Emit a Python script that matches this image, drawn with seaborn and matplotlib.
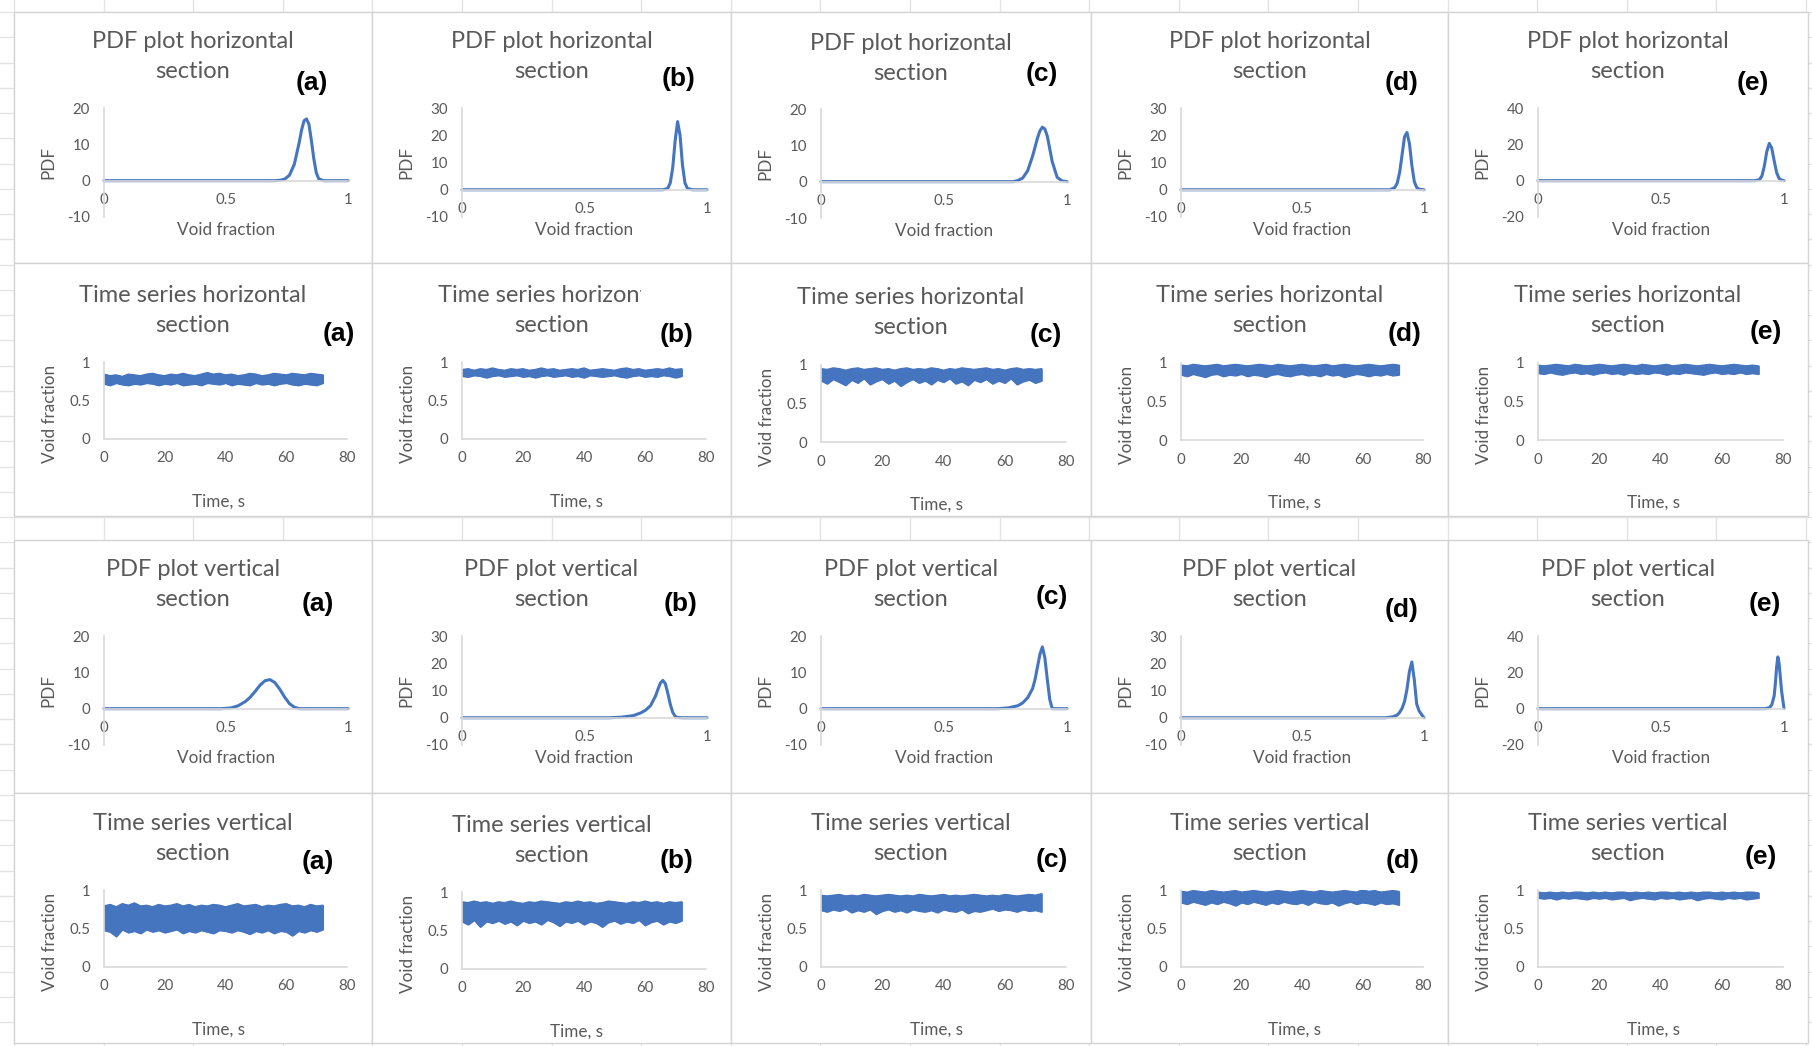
import matplotlib
matplotlib.use("Agg")
import matplotlib.pyplot as plt
from matplotlib.patches import Rectangle
from matplotlib.ticker import FuncFormatter
import seaborn as sns

# ---------------------------------------------------------------- data
letters = ["(a)", "(b)", "(c)", "(d)", "(e)"]
row_titles = [
    ("PDF plot horizontal", "section"),
    ("Time series horizontal", "section"),
    ("PDF plot vertical", "section"),
    ("Time series vertical", "section"),
]
pdf_ylabel = "PDF"
pdf_xlabel = "Void fraction"
ts_ylabel = "Void fraction"
ts_xlabel = "Time, s"

pdf_x_ticks = [0, 0.5, 1]
pdf_x_ticklabels = ["0", "0.5", "1"]
ts_x_ticks = [0, 20, 40, 60, 80]
ts_x_ticklabels = ["0", "20", "40", "60", "80"]
ts_y_ticks = [0, 0.5, 1]
ts_y_ticklabels = ["0", "0.5", "1"]

# (min, max, major step) of the PDF value axes, columns (a)-(e)
pdf_h_yaxis = [(-10, 20, 10), (-10, 30, 10), (-10, 20, 10), (-10, 30, 10), (-20, 40, 20)]
pdf_v_yaxis = [(-10, 20, 10), (-10, 30, 10), (-10, 20, 10), (-10, 30, 10), (-20, 40, 20)]

# PDF curves, horizontal section
pdf_h_a_x = [0, 0.70, 0.72, 0.74, 0.76, 0.78, 0.80, 0.81, 0.82, 0.83, 0.84, 0.85, 0.86, 0.87, 0.88, 0.90, 1.0]
pdf_h_a_y = [0, 0, 0.1, 0.4, 1.5, 4.5, 10.5, 14, 16.5, 17, 15.5, 11, 6, 2.2, 0.5, 0, 0]
pdf_h_b_x = [0, 0.82, 0.84, 0.85, 0.86, 0.87, 0.88, 0.89, 0.90, 0.91, 0.92, 0.94, 1.0]
pdf_h_b_y = [0, 0, 0.5, 2.5, 8, 18, 25, 20, 9, 2.5, 0.5, 0, 0]
pdf_h_c_x = [0, 0.78, 0.80, 0.82, 0.84, 0.86, 0.88, 0.89, 0.90, 0.91, 0.92, 0.94, 0.96, 0.98, 1.0]
pdf_h_c_y = [0, 0, 0.3, 1, 3, 7, 12, 14, 15, 14.5, 12.5, 5.5, 1.2, 0.2, 0]
pdf_h_d_x = [0, 0.86, 0.88, 0.89, 0.90, 0.91, 0.92, 0.93, 0.94, 0.95, 0.96, 0.97, 0.98, 1.0]
pdf_h_d_y = [0, 0, 0.8, 2.5, 6.5, 13, 19.5, 21, 17, 9, 3, 0.8, 0.2, 0]
pdf_h_e_x = [0, 0.88, 0.90, 0.91, 0.92, 0.93, 0.94, 0.95, 0.96, 0.97, 0.98, 0.99, 1.0]
pdf_h_e_y = [0, 0, 0.5, 2.5, 8, 16, 20.5, 18, 11, 4.5, 1.2, 0.3, 0]

# PDF curves, vertical section
pdf_v_a_x = [0, 0.48, 0.52, 0.55, 0.58, 0.60, 0.62, 0.64, 0.66, 0.68, 0.70, 0.72, 0.74, 0.76, 0.78, 0.80, 1.0]
pdf_v_a_y = [0, 0, 0.2, 0.8, 2, 3.2, 4.8, 6.5, 7.7, 8, 7.2, 5.4, 3.2, 1.4, 0.4, 0, 0]
pdf_v_b_x = [0, 0.60, 0.65, 0.70, 0.73, 0.75, 0.77, 0.79, 0.80, 0.81, 0.82, 0.83, 0.84, 0.85, 0.86, 0.87, 0.88, 0.90, 1.0]
pdf_v_b_y = [0, 0, 0.2, 0.8, 1.8, 2.8, 4.5, 8, 10.5, 12.8, 13.7, 12.5, 9, 5, 2, 0.5, 0.1, 0, 0]
pdf_v_c_x = [0, 0.72, 0.76, 0.80, 0.82, 0.84, 0.86, 0.87, 0.88, 0.89, 0.90, 0.91, 0.92, 0.93, 0.94, 1.0]
pdf_v_c_y = [0, 0, 0.2, 0.8, 1.6, 3, 5.5, 8, 11.5, 15, 17, 14, 8, 2.5, 0, 0]
pdf_v_d_x = [0, 0.84, 0.87, 0.89, 0.90, 0.91, 0.92, 0.93, 0.94, 0.95, 0.96, 0.97, 0.98, 0.99, 1.0]
pdf_v_d_y = [0, 0, 0.3, 1, 2, 3.5, 6, 10.5, 17, 20.5, 14, 5, 2.5, 1.2, 0]
pdf_v_e_x = [0, 0.92, 0.94, 0.95, 0.96, 0.965, 0.97, 0.975, 0.98, 0.99, 1.0]
pdf_v_e_y = [0, 0, 0.5, 2, 7, 14, 23, 28.5, 25, 10, 0]

# time stamps of the void-fraction envelopes, s
time_s = [0, 2, 4, 6, 8, 10, 12, 14, 16, 18, 20, 22, 24, 26, 28, 30, 32, 34, 36,
          38, 40, 42, 44, 46, 48, 50, 52, 54, 56, 58, 60, 62, 64, 66, 68, 70, 72]

# upper / lower envelopes of the void-fraction signal, horizontal section
ts_h_a_hi = [0.84, 0.82, 0.83, 0.81, 0.84, 0.83, 0.82, 0.84, 0.85, 0.83, 0.82, 0.84, 0.83, 0.85, 0.83, 0.82, 0.84, 0.86, 0.84,
             0.85, 0.83, 0.84, 0.82, 0.83, 0.85, 0.84, 0.82, 0.83, 0.85, 0.84, 0.83, 0.85, 0.84, 0.83, 0.85, 0.84, 0.83]
ts_h_a_lo = [0.72, 0.70, 0.73, 0.71, 0.70, 0.72, 0.71, 0.73, 0.72, 0.70, 0.72, 0.71, 0.73, 0.70, 0.71, 0.72, 0.70, 0.73, 0.72,
             0.71, 0.73, 0.70, 0.72, 0.71, 0.70, 0.73, 0.71, 0.72, 0.70, 0.72, 0.73, 0.71, 0.70, 0.72, 0.71, 0.70, 0.73]
ts_h_b_hi = [0.90, 0.91, 0.89, 0.91, 0.90, 0.92, 0.90, 0.89, 0.91, 0.90, 0.91, 0.89, 0.90, 0.92, 0.90, 0.91, 0.89, 0.90, 0.91,
             0.90, 0.92, 0.89, 0.90, 0.91, 0.90, 0.89, 0.91, 0.92, 0.90, 0.91, 0.89, 0.90, 0.91, 0.90, 0.92, 0.90, 0.91]
ts_h_b_lo = [0.82, 0.81, 0.83, 0.82, 0.80, 0.82, 0.83, 0.81, 0.82, 0.83, 0.81, 0.82, 0.80, 0.82, 0.83, 0.81, 0.82, 0.83, 0.81,
             0.82, 0.80, 0.83, 0.82, 0.81, 0.82, 0.83, 0.81, 0.80, 0.82, 0.83, 0.81, 0.82, 0.81, 0.83, 0.82, 0.80, 0.82]
ts_h_c_hi = [0.95, 0.94, 0.96, 0.95, 0.93, 0.95, 0.96, 0.94, 0.95, 0.96, 0.94, 0.95, 0.93, 0.95, 0.96, 0.94, 0.95, 0.94, 0.96,
             0.95, 0.93, 0.95, 0.94, 0.96, 0.95, 0.94, 0.95, 0.96, 0.94, 0.95, 0.93, 0.95, 0.96, 0.94, 0.95, 0.94, 0.95]
ts_h_c_lo = [0.80, 0.76, 0.82, 0.78, 0.74, 0.81, 0.77, 0.83, 0.75, 0.79, 0.82, 0.76, 0.80, 0.73, 0.78, 0.82, 0.77, 0.80, 0.75,
             0.81, 0.78, 0.83, 0.76, 0.79, 0.74, 0.81, 0.78, 0.82, 0.76, 0.80, 0.77, 0.83, 0.75, 0.79, 0.81, 0.77, 0.80]
ts_h_d_hi = [0.97, 0.96, 0.98, 0.97, 0.96, 0.97, 0.98, 0.96, 0.97, 0.98, 0.97, 0.96, 0.97, 0.98, 0.97, 0.96, 0.98, 0.97, 0.96,
             0.97, 0.98, 0.97, 0.96, 0.97, 0.98, 0.96, 0.97, 0.98, 0.97, 0.96, 0.97, 0.98, 0.97, 0.96, 0.97, 0.98, 0.97]
ts_h_d_lo = [0.85, 0.83, 0.86, 0.84, 0.82, 0.85, 0.86, 0.83, 0.85, 0.84, 0.86, 0.83, 0.85, 0.84, 0.82, 0.85, 0.86, 0.84, 0.83,
             0.85, 0.86, 0.84, 0.85, 0.83, 0.86, 0.84, 0.85, 0.82, 0.84, 0.86, 0.85, 0.83, 0.85, 0.84, 0.86, 0.84, 0.85]
ts_h_e_hi = [0.97, 0.96, 0.97, 0.98, 0.97, 0.96, 0.98, 0.97, 0.96, 0.97, 0.98, 0.97, 0.96, 0.97, 0.98, 0.97, 0.96, 0.98, 0.97,
             0.96, 0.97, 0.98, 0.96, 0.97, 0.98, 0.97, 0.96, 0.97, 0.98, 0.97, 0.96, 0.97, 0.98, 0.97, 0.96, 0.97, 0.96]
ts_h_e_lo = [0.87, 0.86, 0.88, 0.86, 0.85, 0.87, 0.88, 0.86, 0.87, 0.85, 0.87, 0.88, 0.86, 0.87, 0.85, 0.88, 0.86, 0.87, 0.86,
             0.88, 0.87, 0.85, 0.87, 0.86, 0.88, 0.87, 0.86, 0.85, 0.87, 0.88, 0.86, 0.87, 0.86, 0.88, 0.86, 0.87, 0.86]

# upper / lower envelopes of the void-fraction signal, vertical section
ts_v_a_hi = [0.79, 0.81, 0.78, 0.82, 0.80, 0.83, 0.79, 0.80, 0.78, 0.81, 0.79, 0.80, 0.82, 0.79, 0.81, 0.78, 0.80, 0.79, 0.81,
             0.80, 0.78, 0.80, 0.82, 0.79, 0.80, 0.81, 0.78, 0.80, 0.79, 0.81, 0.82, 0.79, 0.80, 0.78, 0.81, 0.79, 0.80]
ts_v_a_lo = [0.48, 0.46, 0.40, 0.49, 0.45, 0.47, 0.44, 0.49, 0.46, 0.48, 0.45, 0.47, 0.49, 0.44, 0.47, 0.45, 0.48, 0.46, 0.44,
             0.48, 0.47, 0.45, 0.48, 0.46, 0.43, 0.47, 0.45, 0.48, 0.44, 0.47, 0.46, 0.41, 0.47, 0.45, 0.48, 0.46, 0.49]
ts_v_b_hi = [0.87, 0.86, 0.88, 0.86, 0.87, 0.85, 0.87, 0.86, 0.88, 0.86, 0.85, 0.87, 0.86, 0.88, 0.87, 0.86, 0.85, 0.87, 0.86,
             0.88, 0.86, 0.87, 0.85, 0.86, 0.88, 0.87, 0.86, 0.85, 0.87, 0.86, 0.88, 0.86, 0.87, 0.85, 0.87, 0.86, 0.87]
ts_v_b_lo = [0.62, 0.58, 0.64, 0.55, 0.62, 0.60, 0.63, 0.59, 0.62, 0.57, 0.63, 0.60, 0.62, 0.58, 0.64, 0.61, 0.56, 0.62, 0.60,
             0.63, 0.58, 0.62, 0.60, 0.55, 0.61, 0.63, 0.59, 0.62, 0.60, 0.64, 0.57, 0.61, 0.63, 0.58, 0.62, 0.60, 0.63]
ts_v_c_hi = [0.93, 0.92, 0.93, 0.94, 0.92, 0.93, 0.92, 0.94, 0.93, 0.92, 0.93, 0.94, 0.93, 0.92, 0.93, 0.92, 0.94, 0.93, 0.92,
             0.93, 0.94, 0.92, 0.93, 0.92, 0.93, 0.94, 0.93, 0.92, 0.93, 0.92, 0.94, 0.93, 0.92, 0.93, 0.94, 0.93, 0.95]
ts_v_c_lo = [0.74, 0.72, 0.75, 0.73, 0.76, 0.71, 0.74, 0.72, 0.75, 0.69, 0.73, 0.75, 0.72, 0.74, 0.71, 0.75, 0.73, 0.72, 0.74,
             0.71, 0.75, 0.73, 0.72, 0.75, 0.70, 0.73, 0.72, 0.74, 0.76, 0.73, 0.75, 0.74, 0.72, 0.75, 0.73, 0.74, 0.72]
ts_v_d_hi = [0.98, 0.97, 0.99, 0.98, 0.97, 0.99, 0.98, 0.97, 0.98, 0.99, 0.97, 0.98, 0.99, 0.98, 0.97, 0.98, 0.99, 0.98, 0.97,
             0.98, 0.99, 0.98, 0.97, 0.99, 0.98, 0.97, 0.98, 0.99, 0.98, 0.97, 1.00, 0.98, 0.99, 0.97, 0.98, 0.99, 0.98]
ts_v_d_lo = [0.84, 0.82, 0.85, 0.83, 0.81, 0.84, 0.82, 0.85, 0.83, 0.80, 0.84, 0.82, 0.85, 0.83, 0.81, 0.84, 0.82, 0.85, 0.83,
             0.82, 0.84, 0.81, 0.85, 0.83, 0.82, 0.84, 0.80, 0.83, 0.85, 0.82, 0.84, 0.83, 0.81, 0.84, 0.82, 0.83, 0.81]
ts_v_e_hi = [0.97, 0.96, 0.97, 0.96, 0.97, 0.96, 0.97, 0.97, 0.96, 0.97, 0.96, 0.97, 0.96, 0.97, 0.97, 0.96, 0.97, 0.96, 0.97,
             0.96, 0.97, 0.97, 0.96, 0.97, 0.96, 0.97, 0.96, 0.97, 0.97, 0.96, 0.97, 0.96, 0.97, 0.96, 0.97, 0.97, 0.96]
ts_v_e_lo = [0.90, 0.89, 0.90, 0.88, 0.90, 0.89, 0.90, 0.89, 0.88, 0.90, 0.89, 0.90, 0.88, 0.89, 0.90, 0.87, 0.89, 0.90, 0.89,
             0.88, 0.90, 0.89, 0.90, 0.88, 0.89, 0.90, 0.87, 0.89, 0.90, 0.89, 0.88, 0.90, 0.89, 0.90, 0.88, 0.89, 0.90]

pdf_h = [(pdf_h_a_x, pdf_h_a_y), (pdf_h_b_x, pdf_h_b_y), (pdf_h_c_x, pdf_h_c_y),
         (pdf_h_d_x, pdf_h_d_y), (pdf_h_e_x, pdf_h_e_y)]
pdf_v = [(pdf_v_a_x, pdf_v_a_y), (pdf_v_b_x, pdf_v_b_y), (pdf_v_c_x, pdf_v_c_y),
         (pdf_v_d_x, pdf_v_d_y), (pdf_v_e_x, pdf_v_e_y)]
ts_h = [(ts_h_a_lo, ts_h_a_hi), (ts_h_b_lo, ts_h_b_hi), (ts_h_c_lo, ts_h_c_hi),
        (ts_h_d_lo, ts_h_d_hi), (ts_h_e_lo, ts_h_e_hi)]
ts_v = [(ts_v_a_lo, ts_v_a_hi), (ts_v_b_lo, ts_v_b_hi), (ts_v_c_lo, ts_v_c_hi),
        (ts_v_d_lo, ts_v_d_hi), (ts_v_e_lo, ts_v_e_hi)]

# ---------------------------------------------------------------- layout (pixels)
W, H = 1812, 1046
col_x = [14, 372, 731, 1091, 1448, 1808]
row_y = [(12, 263), (263, 516), (540, 793), (793, 1043)]
row_dy = [[0, 0, 1, 0, 0], [2, 2, 5, 3, 3], [0, 0, 0, 0, 0], [0, 2, 0, 0, 0]]
letter_pos = [
    [(312, 83), (679, 79), (1042, 74), (1402, 83), (1753, 83)],
    [(339, 334), (677, 335), (1046, 335), (1405, 334), (1766, 332)],
    [(318, 604), (681, 604), (1052, 597), (1402, 610), (1765, 604)],
    [(318, 862), (677, 861), (1052, 860), (1403, 861), (1761, 857)],
]

BLUE = "#4675c0"
TXT = "#595959"
AXIS = "#d9d9d9"
GRID = "#e3e3e3"
BORDER = "#d4d4d4"

sns.set_theme(style="white")
plt.rcParams["font.family"] = ["Lato", "DejaVu Sans"]
plt.rcParams["axes.unicode_minus"] = False

fig = plt.figure(figsize=(W / 100, H / 100), dpi=100)
fig.patch.set_facecolor("white")

# sheet layer in pixel coordinates
bg = fig.add_axes([0, 0, 1, 1])
bg.set_xlim(0, W)
bg.set_ylim(H, 0)
bg.axis("off")

# spreadsheet cell grid
for k in range(0, 21):
    bg.axvline(14 + 89.6 * k, color=GRID, lw=1.0, zorder=1)
for k in range(-1, 42):
    bg.axhline(12 + 25.25 * k, color=GRID, lw=1.0, zorder=1)

TITLE_FS = 17
AXT_FS = 12.3
TICK_FS = 10.8
LET_FS = 19


def px_axes(l, t, r, b):
    return fig.add_axes([l / W, 1 - b / H, (r - l) / W, (b - t) / H])


def style_axes(ax):
    ax.set_facecolor("none")
    for s in ("top", "right"):
        ax.spines[s].set_visible(False)
    for s in ("left", "bottom"):
        ax.spines[s].set_color(AXIS)
        ax.spines[s].set_linewidth(1.2)
    ax.spines["left"].set_position(("data", 0))
    ax.spines["bottom"].set_position(("data", 0))
    ax.tick_params(length=0, labelsize=TICK_FS, labelcolor=TXT)
    ax.tick_params(axis="x", pad=9)
    ax.tick_params(axis="y", pad=10)
    ax.grid(False)


def chart_frame(L, T, R, B, title, letter, lpos, dy):
    bg.add_patch(Rectangle((L, T), R - L, B - T, facecolor="white",
                           edgecolor=BORDER, lw=1.0, zorder=2))
    cx = (L + R) / 2
    bg.text(cx, T + 30 + dy, title[0], ha="center", va="center",
            fontsize=TITLE_FS, color=TXT, zorder=3)
    bg.text(cx, T + 60 + dy, title[1], ha="center", va="center",
            fontsize=TITLE_FS, color=TXT, zorder=3)
    bg.text(lpos[0], lpos[1], letter, ha="center", va="center",
            fontsize=LET_FS, fontweight="bold", color="black",
            family=["Liberation Sans", "DejaVu Sans"], zorder=3)


def pdf_chart(r, c, series, yaxis):
    L, R = col_x[c], col_x[c + 1]
    T, B = row_y[r]
    dy = row_dy[r][c]
    chart_frame(L, T, R, B, row_titles[r], letters[c], letter_pos[r][c], dy)
    pl, pr, pt, pb = L + 90, R - 24, T + 96 + dy, T + 205 + dy
    ax = px_axes(pl, pt, pr, pb)
    xs, ys = series
    sns.lineplot(x=xs, y=ys, ax=ax, color=BLUE, linewidth=2.2,
                 estimator=None, sort=False)
    for ln in ax.lines:
        ln.set_clip_on(False)
        ln.set_solid_capstyle("round")
    ymin, ymax, step = yaxis
    ax.set_xlim(0, 1)
    ax.set_ylim(ymin, ymax)
    ax.set_xticks(pdf_x_ticks)
    ax.set_xticklabels(pdf_x_ticklabels)
    ax.set_yticks(list(range(ymin, ymax + 1, step)))
    ax.yaxis.set_major_formatter(FuncFormatter(lambda v, p: f"{v:g}"))
    style_axes(ax)
    bg.text(L + 34, (pt + pb) / 2, pdf_ylabel, rotation=90, ha="center",
            va="center", fontsize=AXT_FS, color=TXT, zorder=3)
    bg.text((pl + pr) / 2, T + 218 + dy, pdf_xlabel, ha="center",
            va="center", fontsize=AXT_FS, color=TXT, zorder=3)


def ts_chart(r, c, band):
    L, R = col_x[c], col_x[c + 1]
    T, B = row_y[r]
    dy = row_dy[r][c]
    chart_frame(L, T, R, B, row_titles[r], letters[c], letter_pos[r][c], dy)
    pl, pr, pt, pb = L + 90, R - 25, T + 97 + dy, T + 174 + dy
    ax = px_axes(pl, pt, pr, pb)
    lo, hi = band
    ax.fill_between(time_s, lo, hi, facecolor=BLUE, edgecolor=BLUE,
                    linewidth=1.2)
    sns.lineplot(x=time_s, y=hi, ax=ax, color=BLUE, linewidth=1.2, estimator=None)
    sns.lineplot(x=time_s, y=lo, ax=ax, color=BLUE, linewidth=1.2, estimator=None)
    ax.set_xlim(0, 80)
    ax.set_ylim(0, 1)
    ax.set_xticks(ts_x_ticks)
    ax.set_xticklabels(ts_x_ticklabels)
    ax.set_yticks(ts_y_ticks)
    ax.set_yticklabels(ts_y_ticklabels)
    style_axes(ax)
    bg.text(L + 36, T + 149 + dy, ts_ylabel, rotation=90, ha="center",
            va="center", fontsize=AXT_FS, color=TXT, zorder=3)
    bg.text((pl + pr) / 2 - 7, T + 237 + dy, ts_xlabel, ha="center",
            va="center", fontsize=AXT_FS, color=TXT, zorder=3)


for c in range(5):
    pdf_chart(0, c, pdf_h[c], pdf_h_yaxis[c])
    ts_chart(1, c, ts_h[c])
    pdf_chart(2, c, pdf_v[c], pdf_v_yaxis[c])
    ts_chart(3, c, ts_v[c])

# overlapping blank shape that hides the end of one heading
bg.add_patch(Rectangle((641, 278), 64, 30, facecolor="white",
                       edgecolor="none", zorder=4))

fig.savefig("out.png", dpi=100, facecolor="white")
